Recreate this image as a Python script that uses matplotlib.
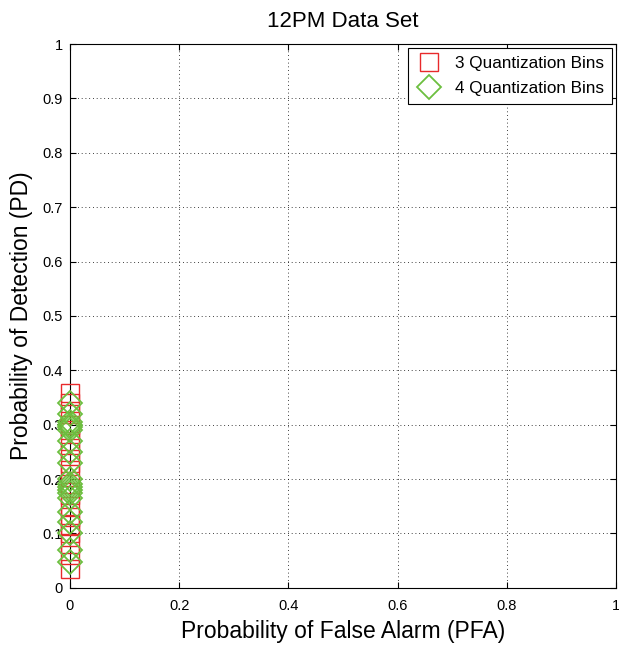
import matplotlib
matplotlib.use("Agg")
import matplotlib.pyplot as plt

plt.rcParams["font.family"] = ["Liberation Sans", "DejaVu Sans"]

title = "12PM Data Set"
xlabel = "Probability of False Alarm (PFA)"
ylabel = "Probability of Detection (PD)"

pfa_3bins = [0.0] * 18
pd_3bins = [0.035, 0.06, 0.08, 0.10, 0.115, 0.13, 0.15, 0.17, 0.19, 0.21,
            0.23, 0.25, 0.27, 0.29, 0.30, 0.32, 0.34, 0.358]
pfa_4bins = [0.0] * 20
pd_4bins = [0.048, 0.07, 0.10, 0.12, 0.14, 0.165, 0.175, 0.18, 0.185, 0.19,
            0.20, 0.23, 0.25, 0.27, 0.29, 0.295, 0.30, 0.305, 0.32, 0.34]

xticks = [0, 0.2, 0.4, 0.6, 0.8, 1]
yticks = [0, 0.1, 0.2, 0.3, 0.4, 0.5, 0.6, 0.7, 0.8, 0.9, 1]
xticklabels = ["0", "0.2", "0.4", "0.6", "0.8", "1"]
yticklabels = ["0", "0.1", "0.2", "0.3", "0.4", "0.5", "0.6", "0.7", "0.8", "0.9", "1"]

fig = plt.figure(figsize=(6.19, 6.48), dpi=100)
ax = fig.add_axes([0.113, 0.093, 0.882, 0.839])

ax.plot(pfa_3bins, pd_3bins, linestyle="none", marker="s", markersize=13,
        markerfacecolor="none", markeredgecolor="#e8292b", markeredgewidth=1.0,
        label="3 Quantization Bins", clip_on=False, zorder=3)
ax.plot(pfa_4bins, pd_4bins, linestyle="none", marker="D", markersize=12,
        markerfacecolor="none", markeredgecolor="#6cbf3f", markeredgewidth=1.3,
        label="4 Quantization Bins", clip_on=False, zorder=4)

ax.set_xlim(0, 1)
ax.set_ylim(0, 1)
ax.set_xticks(xticks)
ax.set_xticklabels(xticklabels)
ax.set_yticks(yticks)
ax.set_yticklabels(yticklabels)
ax.tick_params(direction="in", labelsize=10.5, length=4, top=True, right=True)
ax.tick_params(axis="x", pad=8)
ax.tick_params(axis="y", pad=5)
ax.grid(True, linestyle=(0, (1, 3.5)), color="black", linewidth=0.6)
for s in ax.spines.values():
    s.set_linewidth(0.8)

ax.set_title(title, fontsize=16, pad=12)
ax.set_xlabel(xlabel, fontsize=16.5, labelpad=5)
ax.set_ylabel(ylabel, fontsize=16.5, labelpad=7)

leg = ax.legend(loc="upper right", fontsize=12.3, fancybox=False, edgecolor="black",
                framealpha=1, borderaxespad=0.25, handletextpad=0.7, borderpad=0.45,
                labelspacing=0.6, handlelength=1.6)
leg.get_frame().set_linewidth(0.8)

fig.savefig("out.png", dpi=100)
